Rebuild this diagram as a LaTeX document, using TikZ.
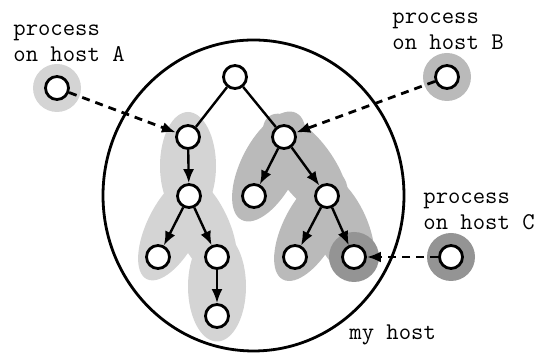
\documentclass[tikz,border=0pt]{standalone}
\usepackage{fontspec}
\usetikzlibrary{arrows.meta}

\begin{document}
\begin{tikzpicture}[
    x=0.5pt, y=-0.5pt,
    proc/.style={circle, draw, line width=1.4pt, fill=white,
                 minimum size=11.5pt, inner sep=0pt},
    tree/.style={line width=1.2pt},
    spawn/.style={line width=1.2pt, -{Latex[length=7pt,width=5.5pt]}},
    remote/.style={line width=1.4pt, dash pattern=on 4pt off 3pt,
                   -{Latex[length=7pt,width=5.5pt]}},
    lbl/.style={font=\ttfamily\fontsize{12}{13.3}\selectfont,
                align=left, inner sep=0pt, anchor=base west},
    grpA/.style={fill=black!17},
    grpB/.style={fill=black!27},
    grpC/.style={fill=black!42},
]
    \useasboundingbox (0,0) rectangle (542,356);

    % my host
    \draw[line width=1.4pt] (253.5,195.5) ellipse (150.5 and 155.5);

    % shaded groups
    \fill[grpA] (188,166) ellipse (28 and 54);
    \fill[grpA, rotate around={63:(173.5,226.5)}] (173.5,226.5) ellipse (59 and 26);
    \fill[grpA, rotate around={-65:(203,226.5)}] (203,226.5) ellipse (58 and 26);
    \fill[grpA] (217,286.5) ellipse (29 and 55);
    \fill[grpA] (57,88) circle (24);

    \fill[grpB, rotate around={63:(269,166.5)}] (269,166.5) ellipse (60 and 28);
    \fill[grpB, rotate around={-54:(305.5,166.5)}] (305.5,166.5) ellipse (62 and 28);
    \fill[grpB, rotate around={62:(311,226.5)}] (311,226.5) ellipse (60 and 27);
    \fill[grpB, rotate around={-66:(340.5,226.5)}] (340.5,226.5) ellipse (58 and 27);
    \fill[grpB] (447,77) circle (24);

    \fill[grpC] (354,257) circle (25);
    \fill[grpC] (451,257) circle (24);

    % processes
    \node[proc] (root) at (235,77) {};
    \node[proc] (l1) at (188,137) {};
    \node[proc] (l2) at (189,196) {};
    \node[proc] (l3a) at (158,257) {};
    \node[proc] (l3b) at (217,257) {};
    \node[proc] (l4) at (217,316) {};
    \node[proc] (r1) at (284,137) {};
    \node[proc] (r2a) at (254,196) {};
    \node[proc] (r2b) at (327,196) {};
    \node[proc] (r3a) at (295,257) {};
    \node[proc] (r3b) at (354,257) {};

    \node[proc] (pa) at (57,88) {};
    \node[proc] (pb) at (447,77) {};
    \node[proc] (pc) at (451,257) {};

    \draw[tree] (root) -- (l1);
    \draw[tree] (root) -- (r1);
    \draw[spawn] (l1) -- (l2);
    \draw[spawn] (l2) -- (l3a);
    \draw[spawn] (l2) -- (l3b);
    \draw[spawn] (l3b) -- (l4);
    \draw[spawn] (r1) -- (r2a);
    \draw[spawn] (r1) -- (r2b);
    \draw[spawn] (r2b) -- (r3a);
    \draw[spawn] (r2b) -- (r3b);

    \draw[remote] (pa) -- (l1);
    \draw[remote] (pb) -- (r1);
    \draw[remote] (pc) -- (r3b);

    % labels
    \node[lbl] (la) at (13,61.7) {process\\on host A};
    \node[lbl] (lb) at (392,50) {process\\on host B};
    \node[lbl] (lc) at (423,229.7) {process\\on host C};
    \node[lbl] (lh) at (349,340) {my host};
\end{tikzpicture}
\end{document}
